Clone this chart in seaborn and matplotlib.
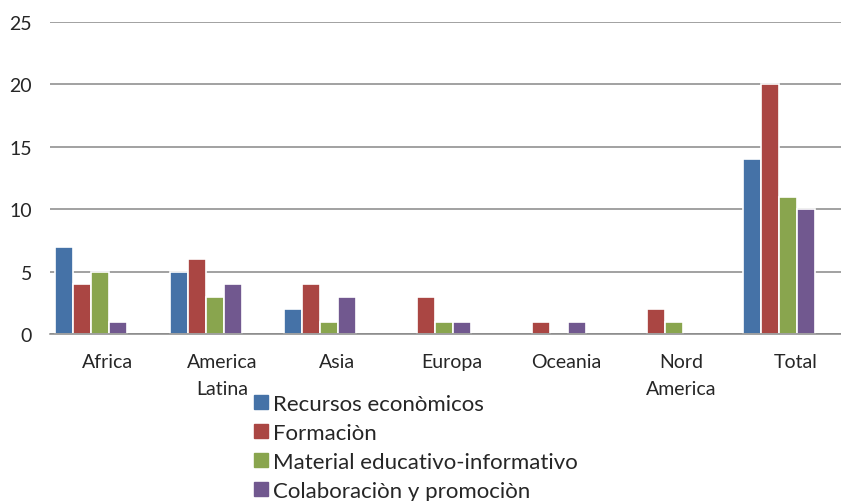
import seaborn as sns
import matplotlib.pyplot as plt
import pandas as pd

# datos
regiones = ['Africa', 'America\nLatina', 'Asia', 'Europa', 'Oceania', 'Nord\nAmerica', 'Total']
series = ['Recursos econòmicos', 'Formaciòn', 'Material educativo-informativo', 'Colaboraciòn y promociòn']
recursos = [7, 5, 2, 0, 0, 0, 14]
formacion = [4, 6, 4, 3, 1, 2, 20]
material = [5, 3, 1, 1, 0, 1, 11]
colaboracion = [1, 4, 3, 1, 1, 0, 10]
colores = ['#4572A7', '#AA4643', '#89A54E', '#71588F']


def plot_chart():
    df = pd.DataFrame({'Region': regiones * 4,
                       'Serie': [s for s in series for _ in regiones],
                       'Valor': recursos + formacion + material + colaboracion})

    sns.set_style('white')
    plt.rcParams['font.family'] = ['Lato', 'DejaVu Sans']

    fig = plt.figure(figsize=(8.41, 5.02), dpi=100)
    ax = fig.add_axes([50 / 841, 167 / 502, 791 / 841, 312.3 / 502])

    sns.barplot(data=df, x='Region', y='Valor', hue='Serie', order=regiones, hue_order=series,
                palette=colores, width=0.628, edgecolor='white', linewidth=1.2,
                saturation=1, errorbar=None, legend=False, ax=ax)

    # el grupo no esta centrado, como en Excel
    for p in ax.patches:
        p.set_x(p.get_x() - 0.142)
        if p.get_height() == 0:
            p.set_visible(False)

    ax.set_xlim(-0.5, -0.5 + 791 / 114.7)
    ax.set_ylim(0, 25)
    ax.set_yticks(range(0, 26, 5))
    ax.yaxis.grid(True, color='#888888', linewidth=1.1)
    ax.set_axisbelow(True)
    for s in ['top', 'right', 'left']:
        ax.spines[s].set_visible(False)
    ax.spines['bottom'].set_color('#888888')
    ax.spines['bottom'].set_linewidth(1.1)
    ax.set_xlabel('')
    ax.set_ylabel('')
    ax.tick_params(axis='y', length=0, pad=13, labelsize=14)
    ax.tick_params(axis='x', length=0, pad=14, labelsize=14)
    for t in ax.get_xticklabels():
        t.set_linespacing(1.65)

    handles = [plt.Rectangle((0, 0), 1, 1, color=c) for c in colores]
    fig.legend(handles, series, loc='upper left', bbox_to_anchor=(254 / 841, 1 - 395 / 502),
               frameon=False, fontsize=16, handlelength=0.62, handleheight=0.62,
               handletextpad=0.25, labelspacing=0.4, borderaxespad=0, borderpad=0)

    fig.savefig('out.png', dpi=100)


if __name__ == '__main__':
    plot_chart()
